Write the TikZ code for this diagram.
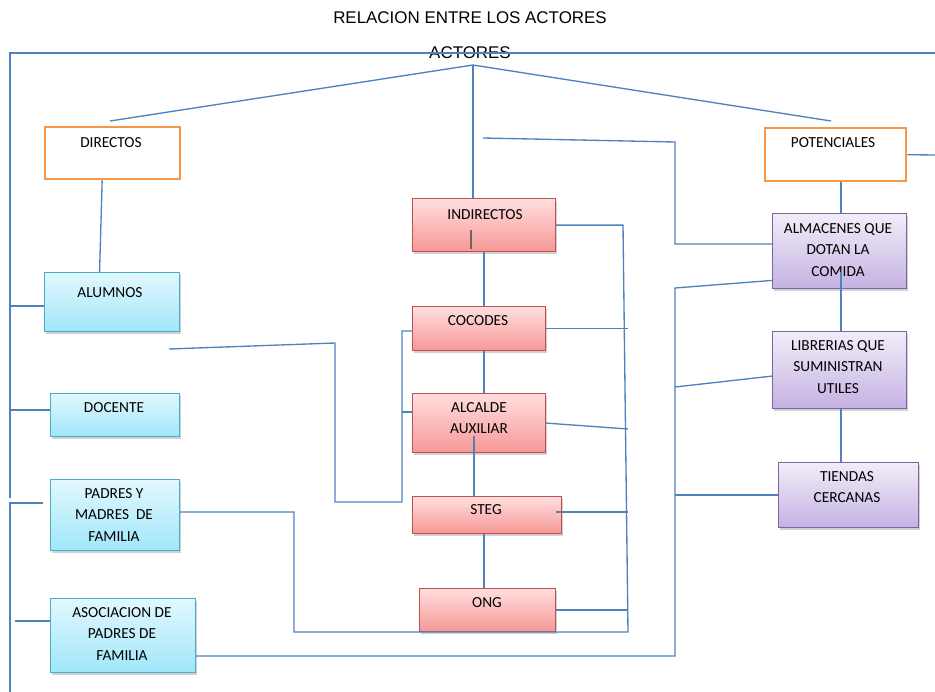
\documentclass[tikz,border=0pt]{standalone}
\usepackage{fontspec}
\setmainfont{Carlito}
\newfontfamily\titulofont{Liberation Sans}
\usetikzlibrary{shadows}
\definecolor{azul}{RGB}{79,129,189}
\definecolor{naranjaB}{RGB}{247,150,70}
\definecolor{celesteB}{RGB}{75,172,198}
\definecolor{celesteA}{RGB}{226,248,254}
\definecolor{celesteC}{RGB}{160,230,250}
\definecolor{rojoB}{RGB}{192,80,77}
\definecolor{rojoA}{RGB}{255,222,222}
\definecolor{rojoC}{RGB}{246,152,150}
\definecolor{moradoB}{RGB}{128,100,162}
\definecolor{moradoA}{RGB}{242,237,249}
\definecolor{moradoC}{RGB}{196,178,226}
\tikzset{
  linea/.style={draw=azul, line width=1pt},
  caja/.style 2 args={anchor=north west, inner sep=0pt, minimum width=#1*0.75pt, minimum height=#2*0.75pt},
  sombra/.style={drop shadow={shadow xshift=1.2pt, shadow yshift=-1.5pt, opacity=0.3, fill=black!60}},
  naranja/.style={draw=naranjaB, line width=1.8pt, fill=white},
  celeste/.style={draw=celesteB, line width=0.9pt, top color=celesteA, bottom color=celesteC, sombra},
  rojo/.style={draw=rojoB, line width=0.9pt, top color=rojoA, bottom color=rojoC, sombra},
  morado/.style={draw=moradoB, line width=0.9pt, top color=moradoA, bottom color=moradoC, sombra},
  texto/.style={font=\fontsize{11.5}{16.3}\selectfont, align=center, inner sep=0pt},
  titulo/.style={font=\titulofont\fontsize{12.7}{15}\selectfont, inner sep=0pt}
}
\begin{document}
\begin{tikzpicture}[x=0.75pt,y=-0.75pt]
\useasboundingbox (0,0) rectangle (935,692);

\node[titulo] (relacion) at (470,18) {RELACION ENTRE LOS ACTORES};
\node[titulo] (actores) at (470,53) {ACTORES};

% cajas
\node[caja={135}{52},naranja] (directos) at (44,126) {};
\node[caja={141}{53},naranja] (potenciales) at (764,127) {};
\node[caja={135}{59},celeste] (alumnos) at (44,272) {};
\node[caja={129}{43},celeste] (docente) at (50,393) {};
\node[caja={129}{71},celeste] (padres) at (50,479) {};
\node[caja={145}{74},celeste] (asociacion) at (50,598) {};
\node[caja={143}{53},rojo] (indirectos) at (412,198) {};
\node[caja={133}{44},rojo] (cocodes) at (412,306) {};
\node[caja={133}{59},rojo] (alcalde) at (412,393) {};
\node[caja={149}{37},rojo] (steg) at (412,496) {};
\node[caja={136}{43},rojo] (ong) at (419,588) {};
\node[caja={134}{75},morado] (almacenes) at (772,213) {};
\node[caja={134}{77},morado] (librerias) at (772,331) {};
\node[caja={140}{65},morado] (tiendas) at (778,462) {};

\node[texto] (directosT) at (111,143) {DIRECTOS};
\node[texto] (potencialesT) at (833,143) {POTENCIALES};
\node[texto] (alumnosT) at (110,293) {ALUMNOS};
\node[texto] (docenteT) at (114,408) {DOCENTE};
\node[texto] (padresT) at (114,515) {PADRES Y\\MADRES~ DE\\FAMILIA};
\node[texto] (asociacionT) at (122,634) {ASOCIACION DE\\PADRES DE\\FAMILIA};
\node[texto] (indirectosT) at (485,215) {INDIRECTOS};
\node[texto] (cocodesT) at (478,321) {COCODES};
\node[texto] (alcaldeT) at (479,418) {ALCALDE\\AUXILIAR};
\node[texto] (stegT) at (486,510) {STEG};
\node[texto] (ongT) at (487,603) {ONG};
\node[texto] (almacenesT) at (838,250) {ALMACENES QUE\\DOTAN LA\\COMIDA};
\node[texto] (libreriasT) at (838,367) {LIBRERIAS QUE\\SUMINISTRAN\\UTILES};
\node[texto] (tiendasT) at (847,487) {TIENDAS\\CERCANAS};

% puntos libres
\coordinate (vertice) at (473,65);
\coordinate (pDir) at (110,121);
\coordinate (pPot) at (831,121);
\coordinate (izqA) at (10,53);
\coordinate (derA) at (935,53);
\coordinate (izqB) at (10,498);
\coordinate (izqC) at (10,503);
\coordinate (izqD) at (10,692);
\coordinate (pPad) at (43,503);
\coordinate (rAlu) at (10,306);
\coordinate (rDoc) at (10,410);
\coordinate (rAso) at (15,621);
\coordinate (pInd) at (483,138);
\coordinate (qA) at (675,142);
\coordinate (qB) at (675,244);
\coordinate (pPotD) at (935,155);
\coordinate (ejeM) at (484,0);
\coordinate (pAlc) at (474,436);
\coordinate (tick) at (471,230);
\coordinate (bA) at (623,226);
\coordinate (bB) at (628,632);
\coordinate (bC) at (294,632);
\coordinate (bD) at (294,512);
\coordinate (bE) at (628,429);
\coordinate (pSteg) at (556,512);
\coordinate (cA) at (169,349);
\coordinate (cB) at (335,343);
\coordinate (cC) at (335,502);
\coordinate (cD) at (402,502);
\coordinate (cE) at (402,331);
\coordinate (cF) at (402,412);
\coordinate (dA) at (675,656);
\coordinate (dB) at (675,288);
\coordinate (dD) at (675,387);
\coordinate (dE) at (675,495);
\coordinate (ejeD) at (841,0);
\coordinate (pAlm) at (841,272);

% conectores
\draw[linea] (derA) -- (izqA) -- (izqB);
\draw[linea] (pPad) -- (izqC) -- (izqD);
\draw[linea] (rAlu) -- (rAlu -| alumnos.west);
\draw[linea] (rDoc) -- (rDoc -| docente.west);
\draw[linea] (rAso) -- (rAso -| asociacion.west);
\draw[linea] (pDir) -- (vertice) -- (pPot);
\draw[linea] (vertice) -- (vertice |- indirectos.north);
\draw[linea] (pInd) -- (qA) -- (qB) -- (qB -| almacenes.west);
\draw[linea] (potenciales.east) -- (pPotD);
\draw[linea] ([xshift=-7.9pt]directos.south) -- ([xshift=-9.4pt]alumnos.north);

\draw[linea] (ejeM |- indirectos.south) -- (ejeM |- cocodes.north);
\draw[linea] (ejeM |- cocodes.south) -- (ejeM |- alcalde.north);
\draw[linea] (pAlc) -- (pAlc |- steg.north);
\draw[linea] (ejeM |- steg.south) -- (ejeM |- ong.north);
\draw[draw=black!60, line width=1pt] (tick) -- ++(0,19);

\draw[linea] (indirectos.east) -- (indirectos.east -| bA) -- (bB) -- (bC) -- (bD) -- (bD -| padres.east);
\draw[linea] (cocodes.east) -- (cocodes.east -| bB);
\draw[linea] (alcalde.east) -- (bE);
\draw[linea] (pSteg) -- (pSteg -| bB);
\draw[linea] (ong.east) -- (ong.east -| bB);

\draw[linea] (cA) -- (cB) -- (cC) -- (cD) -- (cE) -- (cE -| cocodes.west);
\draw[linea] (cF) -- (cF -| alcalde.west);

\draw[linea] (dA -| asociacion.east) -- (dA) -- (dB) -- ([yshift=-22pt]almacenes.west);
\draw[linea] (dD) -- ([yshift=-4.5pt]librerias.west);
\draw[linea] (dE) -- (dE -| tiendas.west);

\draw[linea] (ejeD |- potenciales.south) -- (ejeD |- almacenes.north);
\draw[linea] (pAlm) -- (pAlm |- librerias.north);
\draw[linea] (ejeD |- librerias.south) -- (ejeD |- tiendas.north);

\end{tikzpicture}
\end{document}
